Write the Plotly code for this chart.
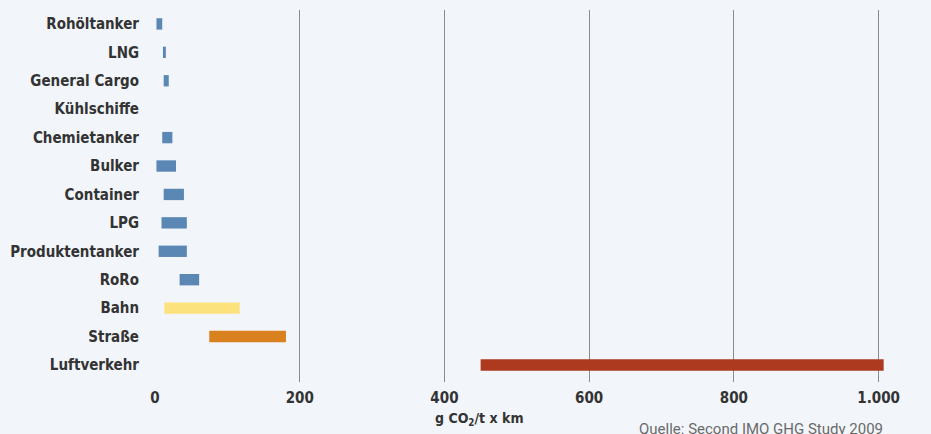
import plotly.graph_objects as go

categories = ["Rohöltanker", "LNG", "General Cargo", "Kühlschiffe", "Chemietanker",
              "Bulker", "Container", "LPG", "Produktentanker", "RoRo",
              "Bahn", "Straße", "Luftverkehr"]
low_values = [2, 11, 12, None, 10, 2, 12, 9, 5, 34, 13, 75, 450]
high_values = [10, 15, 19, None, 24, 29, 40, 44, 44, 61, 117, 181, 1007]
bar_colors = ["#5b87b4"] * 10 + ["#fbe27c", "#d9801f", "#ad3a1f"]
x_ticks = [0, 200, 400, 600, 800, 1000]
x_tick_labels = ["0", "200", "400", "600", "800", "1.000"]

spans = [None if (lo is None or hi is None) else hi - lo for lo, hi in zip(low_values, high_values)]

FONT = "Liberation Sans Narrow, DejaVu Sans Condensed, Roboto Condensed, Arial Narrow, sans-serif"

fig = go.Figure(go.Bar(
    y=categories, x=spans, base=low_values, orientation="h",
    marker=dict(color=bar_colors, line=dict(width=0)), width=0.4,
    hoverinfo="skip",
))

fig.update_layout(
    width=931, height=434,
    margin=dict(l=150, r=22, t=10, b=52),
    paper_bgcolor="#f2f6fa", plot_bgcolor="rgba(0,0,0,0)",
    showlegend=False,
    font=dict(family=FONT, color="#333333"),
)
fig.update_xaxes(
    range=[0, 1042], tickvals=x_ticks, ticktext=x_tick_labels,
    showgrid=True, gridcolor="#8c8c8c", gridwidth=1,
    zeroline=False, showline=False, ticks="",
    tickfont=dict(family=FONT, size=15, color="#333333", weight="bold"),
    ticklabelstandoff=5,
)
fig.update_yaxes(
    categoryorder="array", categoryarray=categories,
    range=[12.6, -0.49], autorange=False,
    showgrid=False, zeroline=False, showline=False, ticks="",
    tickfont=dict(family=FONT, size=15, color="#333333", weight="bold"),
    ticklabelstandoff=15,
)
fig.add_annotation(
    text="g CO<sub>2</sub>/t x km", xref="paper", yref="paper",
    x=(479 - 152) / 759, y=-(419 - 382) / 372, xanchor="center", yanchor="middle",
    showarrow=False, font=dict(family=FONT, size=14, color="#333333", weight="bold"),
)
fig.add_annotation(
    text="Quelle: Second IMO GHG Study 2009", xref="paper", yref="paper",
    x=(887 - 152) / 759, y=-(429 - 382) / 372, xanchor="right", yanchor="middle",
    showarrow=False, font=dict(family="Roboto, Noto Sans, sans-serif", size=15, color="#6a6a6a"),
)

fig.write_html(
    "out.html",
    config={"displayModeBar": False},
    post_script="document.body.style.margin='0';document.body.style.overflow='hidden';",
)
